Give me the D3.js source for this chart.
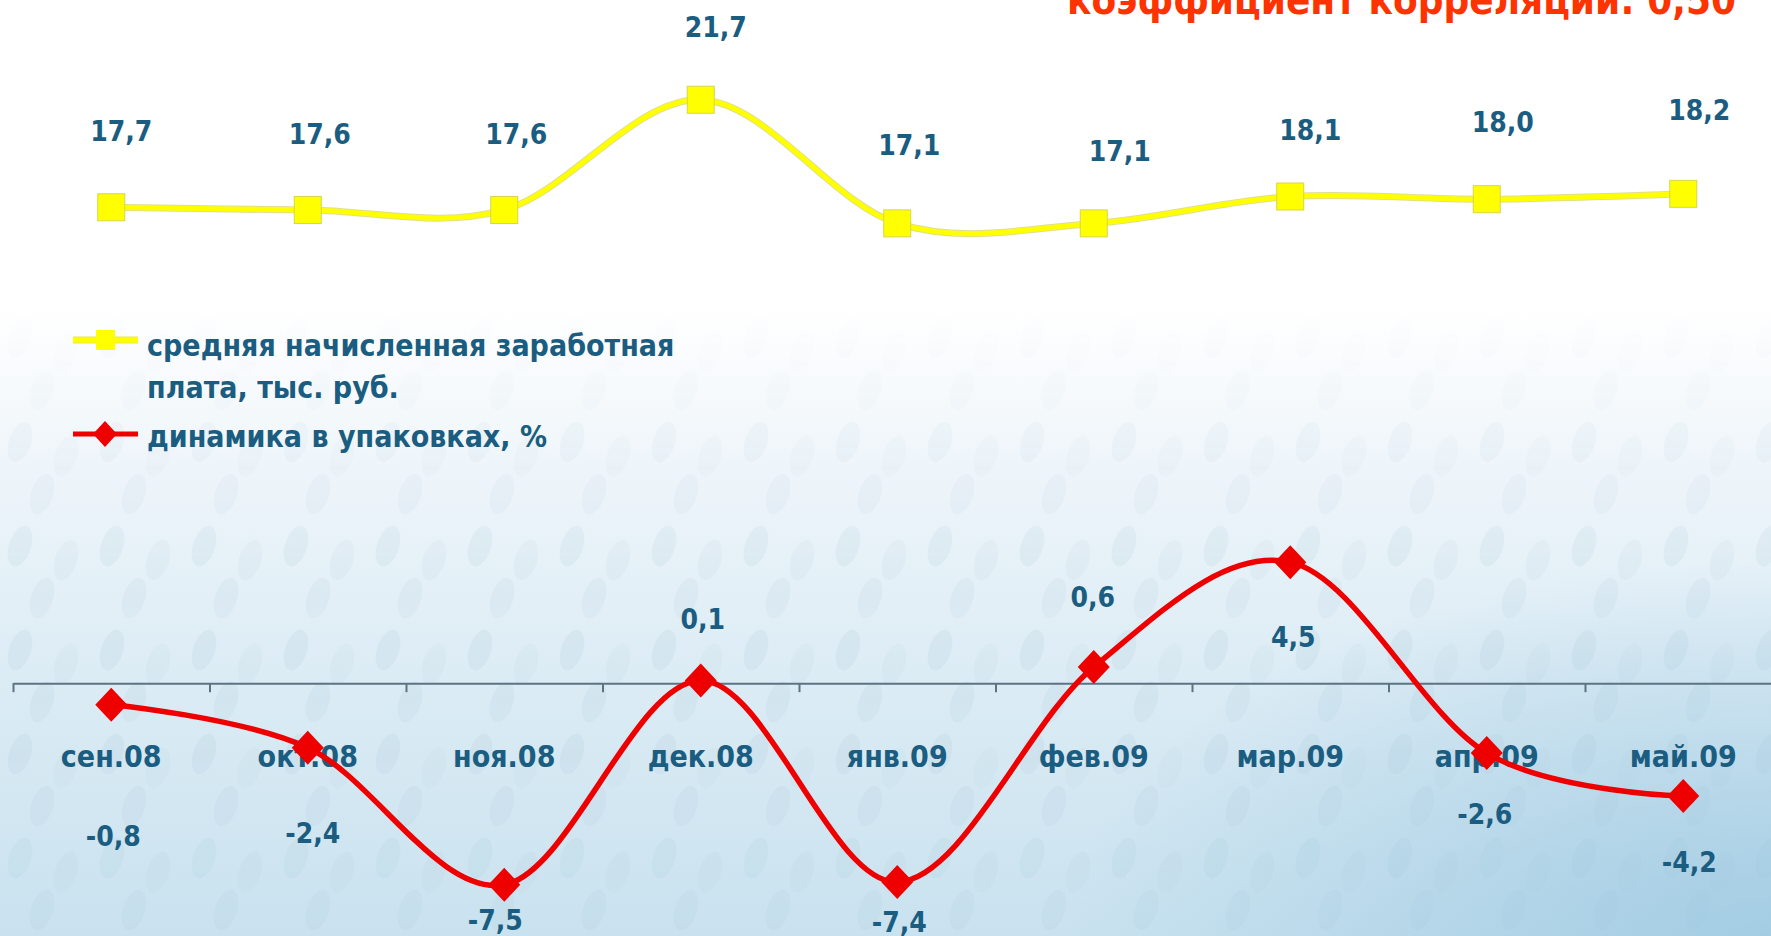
<!DOCTYPE html>
<html>
<head>
<meta charset="utf-8">
<script src="https://cdn.jsdelivr.net/npm/d3@7"></script>
<style>
  html, body { margin: 0; padding: 0; background: #fff; overflow: hidden; }
  svg text { font-family: "DejaVu Sans Condensed", "DejaVu Sans", sans-serif; font-stretch: condensed; font-weight: bold; }
</style>
</head>
<body>
<div id="chart"></div>
<script>
// данные
const months = ["сен.08", "окт.08", "ноя.08", "дек.08", "янв.09", "фев.09", "мар.09", "апр.09", "май.09"];
const salary = [17.7, 17.6, 17.6, 21.7, 17.1, 17.1, 18.1, 18.0, 18.2];
const packs = [-0.8, -2.4, -7.5, 0.1, -7.4, 0.6, 4.5, -2.6, -4.2];
const seriesNames = ["средняя начисленная заработная", "плата, тыс. руб.", "динамика в упаковках, %"];
const titleText = "коэффициент корреляции: 0,50";

// смещения подписей (разметка, в пикселях)
const salaryLabelDx = [10, 12, 12, 15, 12, 26, 20, 16, 16];
const salaryLabelDy = [-76, -76, -76, -73, -78, -72, -67, -77, -84];
const packsLabelDx = [2, 5, -9, 2, 2, -1, 3, -2, 6];
const packsLabelDy = [131, 85, 35, -62, 40, -70, 75, 61, 66];

function renderChart() {
  const width = 1771;
  const height = 936;
  const textColor = "#1b5d80";

  const svg = d3.select("#chart")
    .append("svg")
    .attr("width", width)
    .attr("height", height);

  const defs = svg.append("defs");

  // фон
  const bg = defs.append("linearGradient")
    .attr("id", "bg").attr("x1", 0).attr("y1", 0).attr("x2", 0).attr("y2", 1);
  [["0%", "#ffffff"], ["33%", "#ffffff"], ["50%", "#eef5fa"], ["72%", "#dcecf5"], ["100%", "#c9e2ef"]]
    .forEach(([o, c]) => bg.append("stop").attr("offset", o).attr("stop-color", c));

  const corner = defs.append("radialGradient")
    .attr("id", "corner").attr("cx", "100%").attr("cy", "100%").attr("r", "40%");
  corner.append("stop").attr("offset", "0%").attr("stop-color", "#93c3de").attr("stop-opacity", 0.7);
  corner.append("stop").attr("offset", "100%").attr("stop-color", "#93c3de").attr("stop-opacity", 0);

  const pattern = defs.append("pattern")
    .attr("id", "drops").attr("patternUnits", "userSpaceOnUse")
    .attr("width", 92).attr("height", 104);
  [[20, 26, 0.09], [66, 40, 0.06], [42, 78, 0.08]].forEach(([px, py, op]) => {
    pattern.append("ellipse")
      .attr("cx", px).attr("cy", py).attr("rx", 11).attr("ry", 21)
      .attr("transform", `rotate(18 ${px} ${py})`)
      .attr("fill", "#7fa6be").attr("opacity", op);
  });

  const fade = defs.append("linearGradient")
    .attr("id", "fade").attr("x1", 0).attr("y1", 0).attr("x2", 0).attr("y2", 1);
  fade.append("stop").attr("offset", "0%").attr("stop-color", "#fff").attr("stop-opacity", 0);
  fade.append("stop").attr("offset", "32%").attr("stop-color", "#fff").attr("stop-opacity", 0);
  fade.append("stop").attr("offset", "60%").attr("stop-color", "#fff").attr("stop-opacity", 1);
  fade.append("stop").attr("offset", "100%").attr("stop-color", "#fff").attr("stop-opacity", 0.8);
  defs.append("mask").attr("id", "fadeMask")
    .append("rect").attr("width", width).attr("height", height).attr("fill", "url(#fade)");

  svg.append("rect").attr("width", width).attr("height", height).attr("fill", "url(#bg)");
  svg.append("rect").attr("width", width).attr("height", height)
    .attr("fill", "url(#drops)").attr("mask", "url(#fadeMask)");
  svg.append("rect").attr("width", width).attr("height", height).attr("fill", "url(#corner)");

  // шкалы
  const step = 196.5;
  const x0 = 13;
  const x = d3.scaleBand().domain(months).range([x0, x0 + step * months.length]).padding(0);
  const xTicks = d3.scaleLinear().domain([0, months.length]).range([x0, x0 + step * months.length]);
  const y = d3.scaleLinear().domain([-10, 25]).range([952, 11]);
  const cx = (d, i) => x(months[i]) + x.bandwidth() / 2;

  // ось категорий
  const axis = svg.append("g")
    .attr("transform", `translate(0, ${y(0)})`)
    .call(d3.axisBottom(xTicks).tickValues(d3.range(0, months.length + 1)).tickSize(9).tickSizeOuter(0).tickFormat(""));
  axis.select(".domain").attr("stroke", "#5d7384").attr("stroke-width", 2);
  axis.selectAll(".tick line").attr("stroke", "#5d7384").attr("stroke-width", 2);

  const labels = svg.append("g")
    .attr("transform", `translate(0, ${y(0)})`)
    .call(d3.axisBottom(x).tickSize(0).tickSizeOuter(0));
  labels.select(".domain").remove();
  labels.selectAll(".tick text")
    .attr("y", 73)
    .attr("dy", "0.36em")
    .attr("font-size", 30)
    .attr("font-family", null)
    .attr("fill", textColor);

  const line = d3.line()
    .x(cx)
    .y(d => y(d))
    .curve(d3.curveCardinal.tension(0));

  // линия зарплаты
  svg.append("path").datum(salary)
    .attr("d", line).attr("fill", "none")
    .attr("stroke", "#c9c94a").attr("stroke-width", 7).attr("stroke-opacity", 0.6);
  svg.append("path").datum(salary)
    .attr("d", line).attr("fill", "none")
    .attr("stroke", "#ffff00").attr("stroke-width", 5);

  const sq = 27;
  svg.selectAll(".sal-marker")
    .data(salary)
    .enter()
    .append("rect")
    .attr("class", "sal-marker")
    .attr("x", (d, i) => cx(d, i) - sq / 2)
    .attr("y", d => y(d) - sq / 2)
    .attr("width", sq).attr("height", sq)
    .attr("fill", "#ffff00")
    .attr("stroke", "#d6d64a").attr("stroke-width", 1);

  svg.selectAll(".sal-label")
    .data(salary)
    .enter()
    .append("text")
    .attr("class", "sal-label")
    .attr("x", (d, i) => cx(d, i) + salaryLabelDx[i])
    .attr("y", (d, i) => y(d) + salaryLabelDy[i])
    .attr("dy", "0.36em")
    .attr("text-anchor", "middle")
    .attr("font-size", 28)
    .attr("fill", textColor)
    .text(d => d3.format(".1f")(d).replace(".", ","));

  // линия упаковок
  svg.append("path").datum(packs)
    .attr("d", line).attr("fill", "none")
    .attr("stroke", "#ee0000").attr("stroke-width", 5.5);

  const diamond = (cxv, cyv, w, h) => `M${cxv},${cyv - h}L${cxv + w},${cyv}L${cxv},${cyv + h}L${cxv - w},${cyv}Z`;
  svg.selectAll(".pk-marker")
    .data(packs)
    .enter()
    .append("path")
    .attr("class", "pk-marker")
    .attr("d", (d, i) => diamond(cx(d, i), y(d), 16, 17))
    .attr("fill", "#ee0000");

  svg.selectAll(".pk-label")
    .data(packs)
    .enter()
    .append("text")
    .attr("class", "pk-label")
    .attr("x", (d, i) => cx(d, i) + packsLabelDx[i])
    .attr("y", (d, i) => y(d) + packsLabelDy[i])
    .attr("dy", "0.36em")
    .attr("text-anchor", "middle")
    .attr("font-size", 28)
    .attr("fill", textColor)
    .text(d => d3.format(".1f")(d).replace(".", ",").replace("−", "-"));

  // легенда
  const legend = svg.append("g");
  const l1 = legend.append("g").attr("transform", "translate(73, 340)");
  l1.append("line").attr("x1", 0).attr("x2", 65).attr("stroke", "#e8e84a").attr("stroke-width", 7);
  l1.append("line").attr("x1", 0).attr("x2", 65).attr("stroke", "#ffff00").attr("stroke-width", 5);
  l1.append("rect").attr("x", 23).attr("y", -10).attr("width", 19).attr("height", 20).attr("fill", "#ffff00");
  l1.append("text").attr("x", 74).attr("y", 5).attr("dy", "0.36em")
    .attr("font-size", 30).attr("fill", textColor).text(seriesNames[0]);
  l1.append("text").attr("x", 74).attr("y", 47).attr("dy", "0.36em")
    .attr("font-size", 30).attr("fill", textColor).text(seriesNames[1]);

  const l2 = legend.append("g").attr("transform", "translate(73, 434)");
  l2.append("line").attr("x1", 0).attr("x2", 65).attr("stroke", "#ee0000").attr("stroke-width", 5);
  l2.append("path").attr("d", diamond(32, 0, 12, 13)).attr("fill", "#ee0000");
  l2.append("text").attr("x", 74).attr("y", 2).attr("dy", "0.36em")
    .attr("font-size", 30).attr("fill", textColor).text(seriesNames[2]);

  // заголовок
  svg.append("text")
    .attr("x", 1736)
    .attr("y", 14)
    .attr("text-anchor", "end")
    .attr("font-size", 40)
    .attr("fill", "#ff3300")
    .text(titleText);
}

renderChart();
</script>
</body>
</html>
